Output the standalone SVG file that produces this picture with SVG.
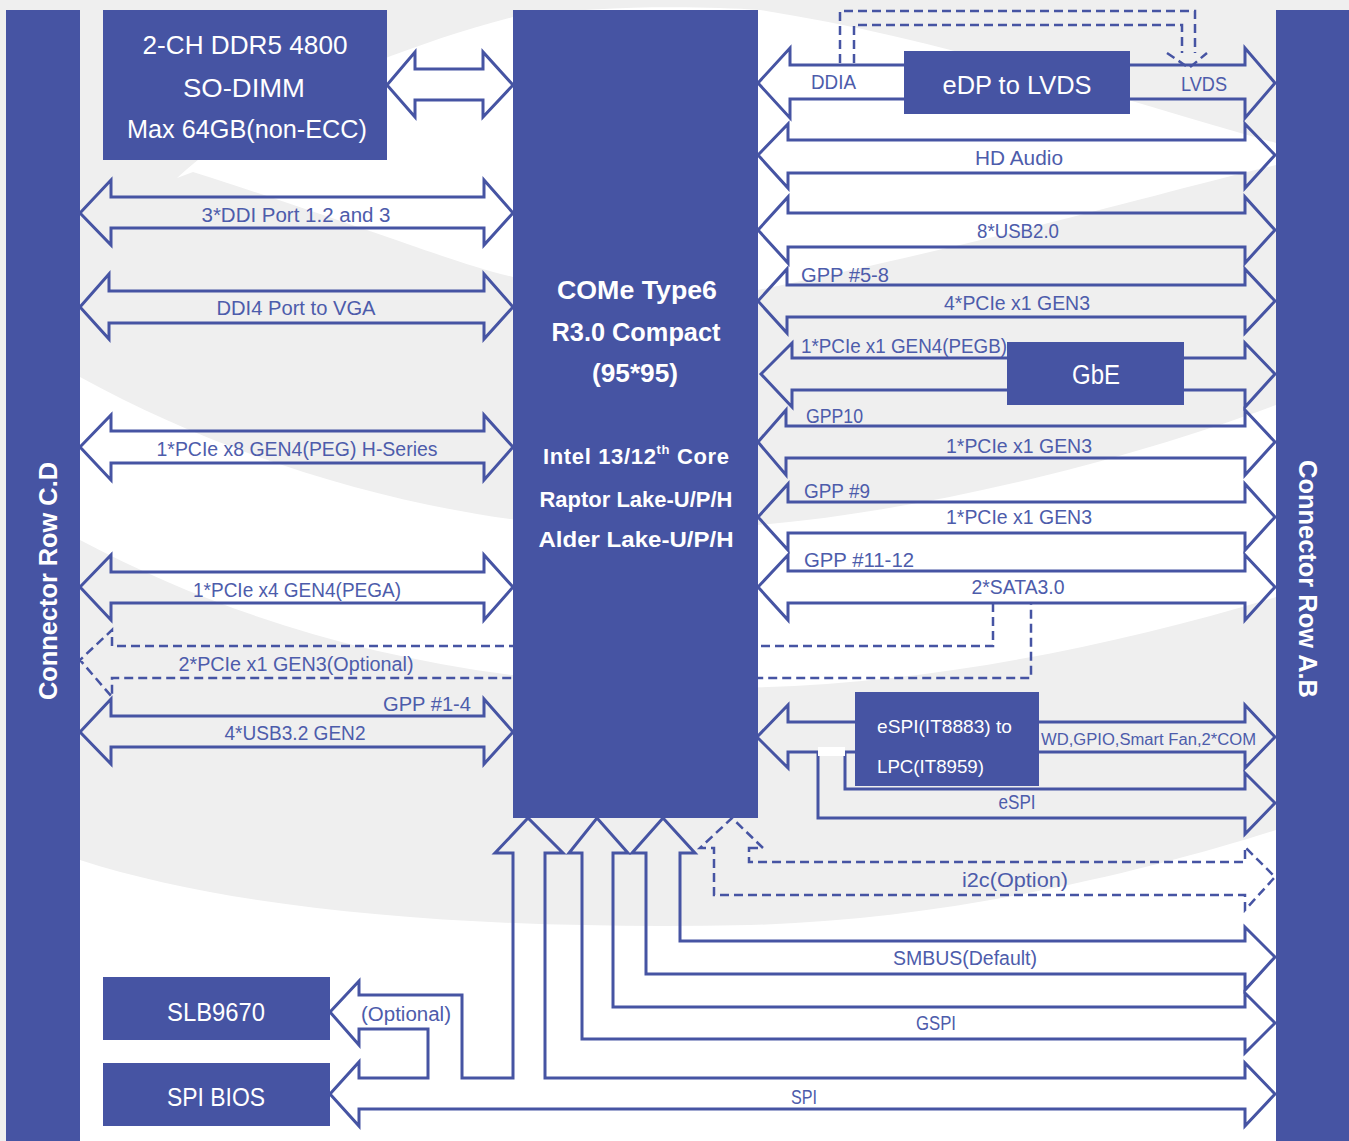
<svg xmlns="http://www.w3.org/2000/svg" width="1349" height="1141" viewBox="0 0 1349 1141">
<defs>
<style>
.box{fill:#4654a3}
.ar{fill:none;stroke:#4654a3;stroke-width:3;stroke-linejoin:miter}
.da{fill:none;stroke:#4654a3;stroke-width:2.5;stroke-dasharray:9 5}
.lb{font-family:"Liberation Sans",Arial,sans-serif;font-size:20px;fill:#4d5cab}
.wt{font-family:"Liberation Sans",Arial,sans-serif;fill:#ffffff}
.bd{font-family:"Liberation Sans",Arial,sans-serif;font-weight:bold;fill:#ffffff}
</style>
</defs>
<g id="background">
<rect x="0" y="0" width="1349" height="1141" fill="#efefef"/>
<path d="M177,178 C250,110 380,52 513,17 C600,5 700,6 760,10 C950,40 1120,100 1276,143 L1276,165 C1150,195 1000,240 758,290 L513,277 C450,262 380,232 193,172 Z" fill="#ffffff"/>
<path d="M80,377 C250,470 450,525 640,530 C850,532 1100,470 1276,405 L1276,597 C1100,650 900,690 700,688 C450,685 250,630 80,540 Z" fill="#ffffff"/>
<path d="M80,860 C250,915 500,930 750,925 C950,920 1150,870 1276,830 L1276,1141 L80,1141 Z" fill="#ffffff"/>
</g>
<g id="connectors">
<path class="da" d="M993,603 L993,646 L112,646 L112,630 L80,660 L112,697 L112,678 L1031,678 L1031,603"/>
<path class="ar" d="M387,85 L415,52 L415,69 L483,69 L483,52 L513,85 L483,117 L483,100 L415,100 L415,117 Z"/>
<path class="ar" d="M80,213 L111,180 L111,197 L484,197 L484,180 L513,213 L484,245 L484,228 L111,228 L111,245 Z"/>
<path class="ar" d="M80,307 L109,274 L109,291 L484,291 L484,274 L513,307 L484,339 L484,323 L109,323 L109,339 Z"/>
<path class="ar" d="M80,447 L111,415 L111,431 L484,431 L484,415 L513,447 L484,480 L484,463 L111,463 L111,480 Z"/>
<path class="ar" d="M80,587 L111,555 L111,572 L484,572 L484,555 L513,587 L484,620 L484,603 L111,603 L111,620 Z"/>
<path class="ar" d="M80,732 L111,699 L111,716 L484,716 L484,699 L513,732 L484,764 L484,747 L111,747 L111,764 Z"/>
<path class="ar" d="M758,83 L790,48 L790,65 L1245,65 L1245,48 L1275,83 L1245,118 L1245,99 L790,99 L790,118 Z"/>
<path class="ar" d="M758,155 L788,124 L788,140 L1245,140 L1245,124 L1275,155 L1245,188 L1245,173 L788,173 L788,188 Z"/>
<path class="ar" d="M758,230 L788,197 L788,213 L1245,213 L1245,197 L1275,230 L1245,263 L1245,247 L788,247 L788,263 Z"/>
<path class="ar" d="M758,301 L787,269 L787,285 L1245,285 L1245,269 L1275,301 L1245,333 L1245,317 L787,317 L787,333 Z"/>
<path class="ar" d="M761,374 L792,343 L792,358 L1245,358 L1245,343 L1275,374 L1245,407 L1245,390 L792,390 L792,407 Z"/>
<path class="ar" d="M758,442 L786,410 L786,426 L1245,426 L1245,410 L1275,442 L1245,475 L1245,458 L786,458 L786,475 Z"/>
<path class="ar" d="M758,517 L788,484 L788,502 L1245,502 L1245,484 L1275,517 L1245,550 L1245,533 L788,533 L788,550 Z"/>
<path class="ar" d="M758,587 L788,555 L788,571 L1245,571 L1245,555 L1275,587 L1245,620 L1245,603 L788,603 L788,620 Z"/>
<path class="ar" d="M818,752 L788,752 L788,768 L757,737 L788,705 L788,722 L1245,722 L1245,705 L1275,737 L1245,768 L1245,752 L845,752"/>
<path class="ar" d="M845,752 L845,789 L1245,789 L1245,773 L1275,803 L1245,834 L1245,818 L818,818 L818,752"/>
<path class="da" d="M749,848 L763,848 L732,818 L700,848 L714,848 L714,895 L1245,895 L1245,910 L1275,877 L1245,847 L1245,862 L749,862 Z"/>
<path class="ar" d="M680,853 L695,853 L663,818 L632,853 L646,853 L646,974 L1245,974 L1245,990 L1275,957 L1245,927 L1245,941 L680,941 Z"/>
<path class="ar" d="M613,853 L628,853 L597,818 L569,853 L582,853 L582,1039 L1245,1039 L1245,1053 L1275,1023 L1245,993 L1245,1007 L613,1007 Z"/>
<path class="ar" d="M428,1078 L359,1078 L359,1062 L330,1094 L359,1126 L359,1109 L1245,1109 L1245,1126 L1275,1094 L1245,1063 L1245,1078 L545,1078 L545,853 L563,853 L528,818 L495,853 L513,853 L513,1078 L462,1078 L462,995 L359,995 L359,981 L330,1012 L359,1045 L359,1029 L428,1029 Z"/>
<path class="da" d="M840,63 L840,11 L1195,11 L1195,53"/>
<path class="da" d="M854,63 L854,25 L1182,25 L1182,53"/>
<path class="da" d="M1167,53 L1189,68 L1207,53"/>
<text class="lb" x="296" y="222" text-anchor="middle" textLength="189" lengthAdjust="spacingAndGlyphs">3*DDI Port 1.2 and 3</text>
<text class="lb" x="296" y="315" text-anchor="middle" textLength="159" lengthAdjust="spacingAndGlyphs">DDI4 Port to VGA</text>
<text class="lb" x="297" y="456" text-anchor="middle" textLength="281" lengthAdjust="spacingAndGlyphs">1*PCIe x8 GEN4(PEG) H-Series</text>
<text class="lb" x="297" y="597" text-anchor="middle" textLength="208" lengthAdjust="spacingAndGlyphs">1*PCIe x4 GEN4(PEGA)</text>
<text class="lb" x="296" y="671" text-anchor="middle" textLength="235" lengthAdjust="spacingAndGlyphs">2*PCIe x1 GEN3(Optional)</text>
<text class="lb" x="383" y="711" textLength="88" lengthAdjust="spacingAndGlyphs">GPP #1-4</text>
<text class="lb" x="295" y="740" text-anchor="middle" textLength="141" lengthAdjust="spacingAndGlyphs">4*USB3.2 GEN2</text>
<text class="lb" x="811" y="89" textLength="45" lengthAdjust="spacingAndGlyphs">DDIA</text>
<text class="lb" x="1181" y="91" textLength="46" lengthAdjust="spacingAndGlyphs">LVDS</text>
<text class="lb" x="1019" y="165" text-anchor="middle" textLength="88" lengthAdjust="spacingAndGlyphs">HD Audio</text>
<text class="lb" x="1018" y="238" text-anchor="middle" textLength="82" lengthAdjust="spacingAndGlyphs">8*USB2.0</text>
<text class="lb" x="801" y="282" textLength="88" lengthAdjust="spacingAndGlyphs">GPP #5-8</text>
<text class="lb" x="1017" y="310" text-anchor="middle" textLength="146" lengthAdjust="spacingAndGlyphs">4*PCIe x1 GEN3</text>
<text class="lb" x="801" y="353" textLength="206" lengthAdjust="spacingAndGlyphs">1*PCIe x1 GEN4(PEGB)</text>
<text class="lb" x="806" y="423" textLength="57" lengthAdjust="spacingAndGlyphs">GPP10</text>
<text class="lb" x="1019" y="453" text-anchor="middle" textLength="146" lengthAdjust="spacingAndGlyphs">1*PCIe x1 GEN3</text>
<text class="lb" x="804" y="498" textLength="66" lengthAdjust="spacingAndGlyphs">GPP #9</text>
<text class="lb" x="1019" y="524" text-anchor="middle" textLength="146" lengthAdjust="spacingAndGlyphs">1*PCIe x1 GEN3</text>
<text class="lb" x="804" y="567" textLength="110" lengthAdjust="spacingAndGlyphs">GPP #11-12</text>
<text class="lb" x="1018" y="594" text-anchor="middle" textLength="93" lengthAdjust="spacingAndGlyphs">2*SATA3.0</text>
<text class="lb" x="1041" y="745" style="font-size:16px" textLength="215" lengthAdjust="spacingAndGlyphs">WD,GPIO,Smart Fan,2*COM</text>
<text class="lb" x="1017" y="809" text-anchor="middle" textLength="37" lengthAdjust="spacingAndGlyphs">eSPI</text>
<text class="lb" x="1015" y="887" text-anchor="middle" textLength="106" lengthAdjust="spacingAndGlyphs">i2c(Option)</text>
<text class="lb" x="965" y="965" text-anchor="middle" textLength="144" lengthAdjust="spacingAndGlyphs">SMBUS(Default)</text>
<text class="lb" x="936" y="1030" text-anchor="middle" textLength="40" lengthAdjust="spacingAndGlyphs">GSPI</text>
<text class="lb" x="804" y="1104" text-anchor="middle" textLength="26" lengthAdjust="spacingAndGlyphs">SPI</text>
<text class="lb" x="406" y="1021" text-anchor="middle" textLength="90" lengthAdjust="spacingAndGlyphs">(Optional)</text>
</g>
<rect x="818" y="747" width="27" height="9" fill="#ffffff"/>
<g id="connector-cd">
<rect class="box" x="6" y="10" width="74" height="1131"/>
<text class="bd" x="0" y="0" font-size="25" text-anchor="middle" transform="translate(57,581) rotate(-90)" textLength="238" lengthAdjust="spacingAndGlyphs">Connector Row C.D</text>
</g>
<g id="connector-ab">
<rect class="box" x="1276" y="10" width="73" height="1131"/>
<text class="bd" x="0" y="0" font-size="25" text-anchor="middle" transform="translate(1299,579) rotate(90)" textLength="238" lengthAdjust="spacingAndGlyphs">Connector Row A.B</text>
</g>
<g id="ddr">
<rect class="box" x="103" y="10" width="284" height="150"/>
<text class="wt" x="245" y="54" font-size="25" text-anchor="middle" textLength="205" lengthAdjust="spacingAndGlyphs">2-CH DDR5 4800</text>
<text class="wt" x="244" y="97" font-size="25" text-anchor="middle" textLength="122" lengthAdjust="spacingAndGlyphs">SO-DIMM</text>
<text class="wt" x="247" y="138" font-size="25" text-anchor="middle" textLength="240" lengthAdjust="spacingAndGlyphs">Max 64GB(non-ECC)</text>
</g>
<g id="chip">
<rect class="box" x="513" y="10" width="245" height="808"/>
<text class="bd" x="637" y="299" font-size="26" text-anchor="middle" textLength="160" lengthAdjust="spacingAndGlyphs">COMe Type6</text>
<text class="bd" x="636" y="341" font-size="26" text-anchor="middle" textLength="169" lengthAdjust="spacingAndGlyphs">R3.0 Compact</text>
<text class="bd" x="635" y="382" font-size="26" text-anchor="middle" textLength="86" lengthAdjust="spacingAndGlyphs">(95*95)</text>
<text class="bd" x="543" y="464" font-size="22" letter-spacing="0.65">Intel 13/12<tspan font-size="13" dy="-10">th</tspan><tspan dy="10"> Core</tspan></text>
<text class="bd" x="636" y="507" font-size="22" text-anchor="middle" textLength="193" lengthAdjust="spacingAndGlyphs">Raptor Lake-U/P/H</text>
<text class="bd" x="636" y="547" font-size="22" text-anchor="middle" textLength="195" lengthAdjust="spacingAndGlyphs">Alder Lake-U/P/H</text>
</g>
<g id="edp">
<rect class="box" x="904" y="51" width="226" height="63"/>
<text class="wt" x="1017" y="94" font-size="26" text-anchor="middle" textLength="149" lengthAdjust="spacingAndGlyphs">eDP to LVDS</text>
</g>
<g id="gbe">
<rect class="box" x="1007" y="342" width="177" height="63"/>
<text class="wt" x="1096" y="384" font-size="27" text-anchor="middle" textLength="48" lengthAdjust="spacingAndGlyphs">GbE</text>
</g>
<g id="espi-lpc">
<rect class="box" x="855" y="692" width="184" height="94"/>
<text class="wt" x="877" y="733" font-size="19" textLength="135" lengthAdjust="spacingAndGlyphs">eSPI(IT8883) to</text>
<text class="wt" x="877" y="773" font-size="19" textLength="107" lengthAdjust="spacingAndGlyphs">LPC(IT8959)</text>
</g>
<g id="slb9670">
<rect class="box" x="103" y="977" width="227" height="63"/>
<text class="wt" x="216" y="1021" font-size="26" text-anchor="middle" textLength="98" lengthAdjust="spacingAndGlyphs">SLB9670</text>
</g>
<g id="spi-bios">
<rect class="box" x="103" y="1063" width="227" height="63"/>
<text class="wt" x="216" y="1106" font-size="26" text-anchor="middle" textLength="98" lengthAdjust="spacingAndGlyphs">SPI BIOS</text>
</g>
</svg>
